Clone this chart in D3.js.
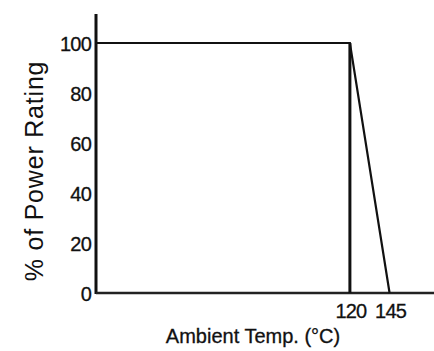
<!DOCTYPE html>
<html>
<head>
<meta charset="utf-8">
<script src="https://cdn.jsdelivr.net/npm/d3@7"></script>
<style>
  body { margin: 0; background: #fff; }
  text { font-family: "Liberation Sans", Arial, sans-serif; fill: #111; }
</style>
</head>
<body>
<div id="chart"></div>
<script>
// derating curve: temp (°C) vs % of power rating
const temps = [-40, 120, 145];
const power = [100, 100, 0];
const yTicks = [0, 20, 40, 60, 80, 100];
const xTicks = [120, 145];

const width = 434;
const height = 351;

const svg = d3.select("#chart").append("svg")
  .attr("width", width)
  .attr("height", height);

// scales (x axis starts at -40, right edge runs off the frame)
const x = d3.scaleLinear().domain([-40, 173]).range([96, 434]);
const y = d3.scaleLinear().domain([0, 100]).range([293, 43]);

// y axis line
svg.append("line")
  .attr("x1", x(-40)).attr("x2", x(-40))
  .attr("y1", 14).attr("y2", y(0) + 1)
  .attr("stroke", "#111").attr("stroke-width", 3);

// x axis line
svg.append("line")
  .attr("x1", x(-40)).attr("x2", width)
  .attr("y1", y(0)).attr("y2", y(0))
  .attr("stroke", "#222").attr("stroke-width", 2.5);

// y tick labels
svg.selectAll(".ytick")
  .data(yTicks)
  .enter().append("text")
  .attr("class", "ytick")
  .attr("x", 91)
  .attr("y", function(d) { return y(d) + 8; })
  .attr("text-anchor", "end")
  .attr("font-size", 20)
  .attr("letter-spacing", -0.8)
  .attr("stroke", "#111").attr("stroke-width", 0.3)
  .text(function(d) { return d; });

// x tick labels
svg.selectAll(".xtick")
  .data(xTicks)
  .enter().append("text")
  .attr("class", "xtick")
  .attr("x", function(d) { return x(d) + 1; })
  .attr("y", 318)
  .attr("text-anchor", "middle")
  .attr("font-size", 20)
  .attr("letter-spacing", -0.8)
  .attr("stroke", "#111").attr("stroke-width", 0.3)
  .text(function(d) { return d; });

// vertical drop at 120
svg.append("line")
  .attr("x1", x(120)).attr("x2", x(120))
  .attr("y1", y(100)).attr("y2", y(0))
  .attr("stroke", "#111").attr("stroke-width", 3);

// the curve itself
const pts = temps.map(function(t, i) { return [t, power[i]]; });
const line = d3.line()
  .x(function(d) { return x(d[0]); })
  .y(function(d) { return y(d[1]); });

svg.append("path")
  .datum(pts)
  .attr("d", line)
  .attr("fill", "none")
  .attr("stroke", "#111")
  .attr("stroke-width", 2.2)
  .attr("stroke-linejoin", "miter");

// axis titles
svg.append("text")
  .attr("x", 253)
  .attr("y", 343)
  .attr("text-anchor", "middle")
  .attr("font-size", 20)
  .attr("stroke", "#111").attr("stroke-width", 0.3)
  .text("Ambient Temp. (°C)");

svg.append("text")
  .attr("transform", "translate(43,171) rotate(-90)")
  .attr("text-anchor", "middle")
  .attr("font-size", 25)
  .attr("letter-spacing", 0.8)
  .text("% of  Power Rating");
</script>
</body>
</html>
